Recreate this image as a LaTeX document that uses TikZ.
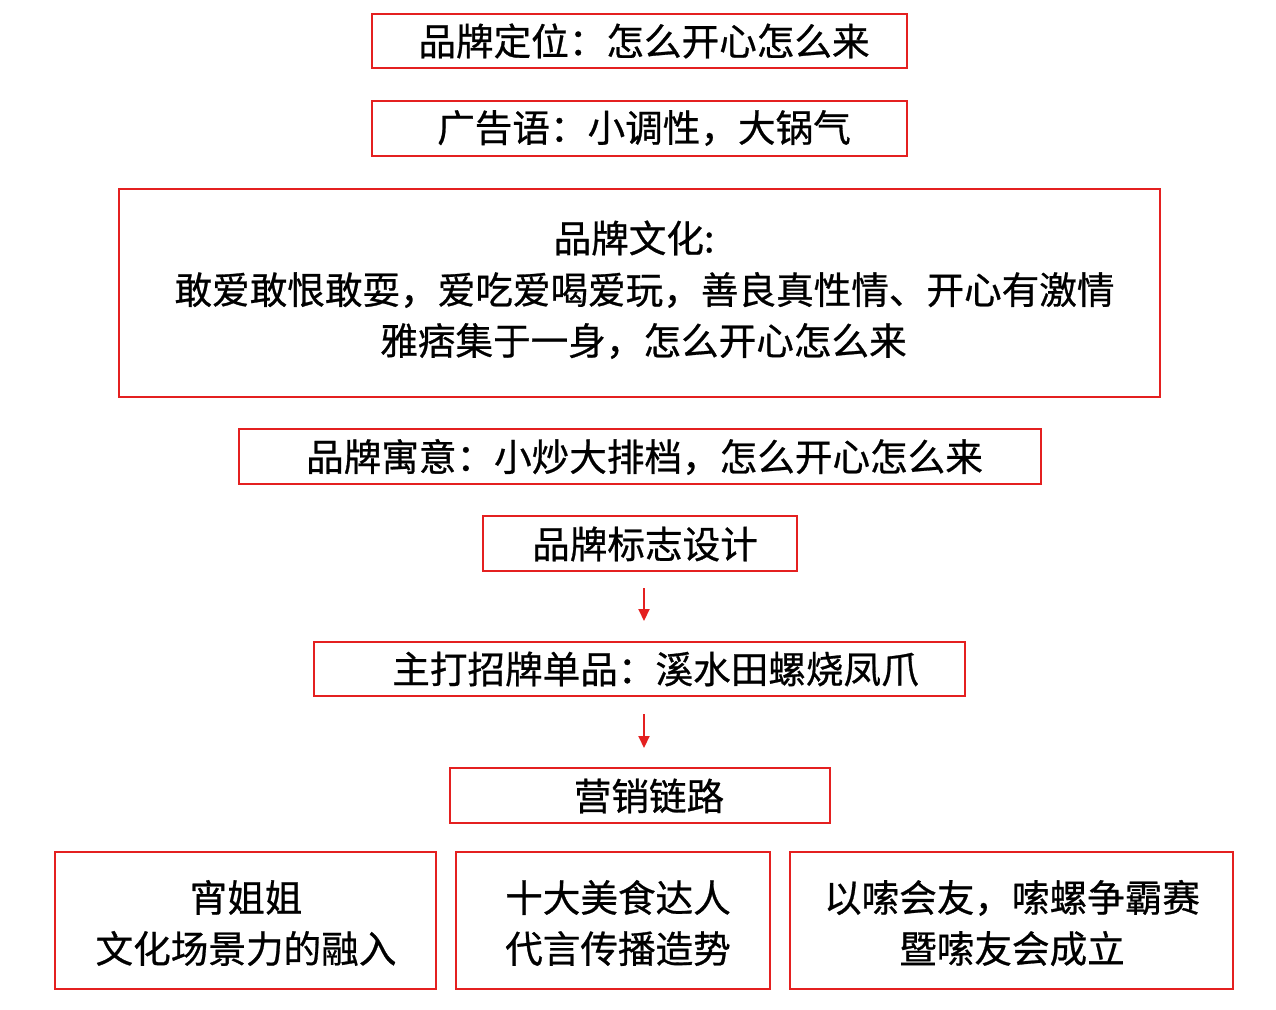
\documentclass[tikz,border=0pt]{standalone}
\usepackage{fontspec}
\setmainfont{Noto Sans CJK SC}[FakeBold=0.7]
\usetikzlibrary{arrows.meta}
\definecolor{boxred}{RGB}{228,32,32}
\tikzset{
  rbox/.style={draw=boxred, line width=2pt, inner sep=0pt, rectangle},
  txt/.style={inner sep=0pt, align=center, font=\fontsize{37.6}{51}\selectfont, text=black},
  arr/.style={draw=boxred, line width=2pt, -{Triangle[width=11pt,length=12pt]}}
}
\begin{document}
\begin{tikzpicture}[x=1pt,y=-1pt]
\useasboundingbox (0,0) rectangle (1276,1009);
% boxes
\node[rbox, minimum width=535, minimum height=54] (b1) at (639.5,41) {};
\node[rbox, minimum width=535, minimum height=55] (b2) at (639.5,128.5) {};
\node[rbox, minimum width=1041, minimum height=208] (b3) at (639.5,293) {};
\node[rbox, minimum width=802, minimum height=55] (b4) at (640,456.5) {};
\node[rbox, minimum width=314, minimum height=55] (b5) at (640,543.5) {};
\node[rbox, minimum width=651, minimum height=54] (b6) at (639.5,669) {};
\node[rbox, minimum width=380, minimum height=55] (b7) at (640,795.5) {};
\node[rbox, minimum width=381, minimum height=137] (b8) at (245.5,920.5) {};
\node[rbox, minimum width=314, minimum height=137] (b9) at (613,920.5) {};
\node[rbox, minimum width=443, minimum height=137] (b10) at (1011.5,920.5) {};
% texts
\node[txt] (t1) at (644,41) {品牌定位：怎么开心怎么来};
\node[txt] (t2) at (644,128) {广告语：小调性，大锅气};
\node[txt] (t3a) at (634,238) {品牌文化:};
\node[txt] (t3b) at (644.5,290) {敢爱敢恨敢耍，爱吃爱喝爱玩，善良真性情、开心有激情};
\node[txt] (t3c) at (643.5,341) {雅痞集于一身，怎么开心怎么来};
\node[txt] (t4) at (644.5,457) {品牌寓意：小炒大排档，怎么开心怎么来};
\node[txt] (t5) at (645,544) {品牌标志设计};
\node[txt] (t6) at (655.5,669) {主打招牌单品：溪水田螺烧凤爪};
\node[txt] (t7) at (649,796) {营销链路};
\node[txt] (t8) at (246,923) {宵姐姐\\文化场景力的融入};
\node[txt] (t9) at (618,923) {十大美食达人\\代言传播造势};
\node[txt] (t10) at (1012,923) {以嗦会友，嗦螺争霸赛\\暨嗦友会成立};
% arrows
\draw[arr, shorten <=16pt, shorten >=20pt] ([xshift=4pt]b5.south) -- ([xshift=4.5pt]b6.north);
\draw[arr, shorten <=17pt, shorten >=19pt] ([xshift=4.5pt]b6.south) -- ([xshift=4pt]b7.north);
\end{tikzpicture}
\end{document}
